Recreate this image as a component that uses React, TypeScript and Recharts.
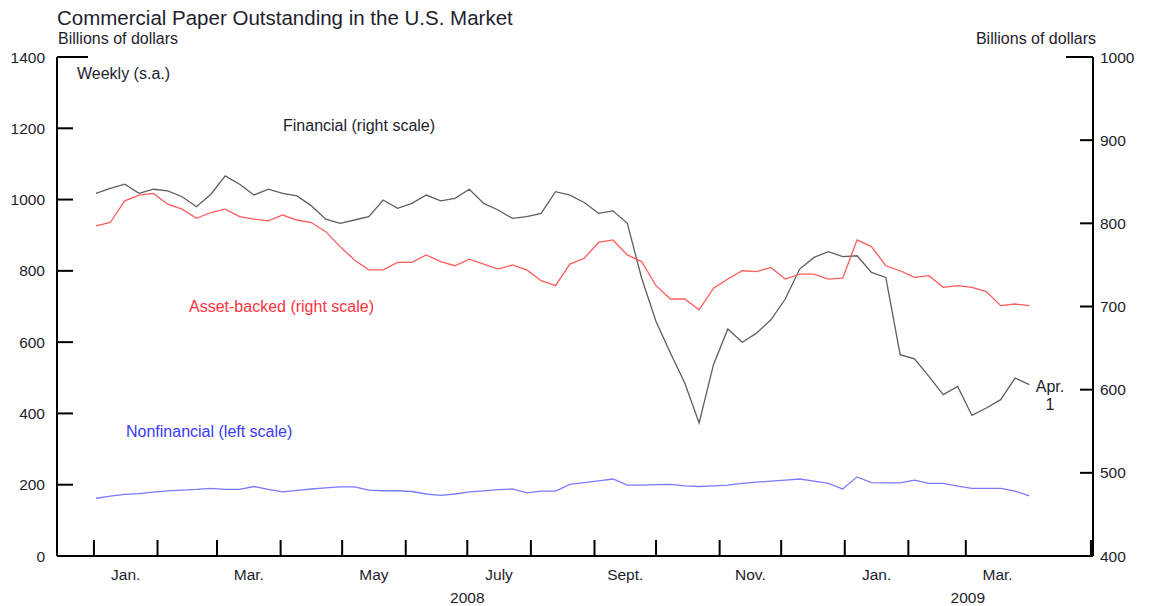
import { LineChart, Line, XAxis, YAxis } from 'recharts';

// weekly readings, Wednesdays Jan 2, 2008 .. Apr 1, 2009 (days since Jan 1, 2008)
const weekDays: number[] = Array.from({ length: 66 }, (_, i) => 1 + 7 * i);

// right scale, billions of dollars
const financial = [
  836, 842, 847, 836, 841, 839, 832, 820, 835, 857, 847, 834, 841, 836, 833, 821,
  805, 800, 804, 808, 828, 818, 824, 834, 827, 830, 841, 824, 816, 806, 808, 812,
  838, 834, 825, 812, 815, 800, 734, 682, 644, 608, 560, 630, 673, 657, 668, 684,
  709, 745, 759, 766, 760, 761, 741, 735, 642, 637, 616, 594, 604, 569, 578, 588,
  614, 606,
];

const assetBacked = [
  797, 801, 827, 834, 836, 823, 817, 806, 813, 817, 808, 805, 803, 810, 804, 801,
  790, 772, 756, 744, 744, 753, 753, 762, 754, 749, 757, 751, 745, 750, 744, 731,
  725, 751, 758, 777, 780, 762, 754, 725, 709, 709, 696, 722, 733, 743, 742, 747,
  733, 739, 739, 733, 734, 780, 772, 749, 743, 735, 737, 723, 725, 723, 718, 701,
  703, 701,
];

// left scale
const nonfinancial = [
  162, 168, 173, 175, 179, 183, 185, 187, 190, 187, 187, 195, 187, 180, 184, 188,
  191, 194, 194, 185, 183, 183, 181, 174, 170, 174, 180, 183, 186, 188, 177, 182,
  182, 201, 206, 211, 216, 199, 199, 200, 201, 197, 195, 197, 199, 204, 207, 210,
  213, 216, 210, 204, 188, 222, 206, 205, 205, 213, 204, 204, 196, 190, 190, 190,
  182, 169,
];

const leftTicks = [0, 200, 400, 600, 800, 1000, 1200, 1400];
const rightTicks = [400, 500, 600, 700, 800, 900, 1000];

// month boundaries (no Apr. 2009 mark in the original)
const monthStarts = [0, 31, 60, 91, 121, 152, 182, 213, 244, 274, 305, 335, 366, 397, 425, 486];
const monthLabelDays = [15.5, 75.5, 136.5, 197.5, 259, 320, 381.5, 440.5];
const monthLabels = ['Jan.', 'Mar.', 'May', 'July', 'Sept.', 'Nov.', 'Jan.', 'Mar.'];
const yearDays = [182, 426];
const yearLabels = ['2008', '2009'];

const data = weekDays.map((day, i) => ({
  day,
  financial: financial[i],
  assetBacked: assetBacked[i],
  nonfinancial: nonfinancial[i],
}));

const xTicks = Array.from(new Set([...monthStarts, ...monthLabelDays, ...yearDays])).sort((a, b) => a - b);

const FONT = '"Liberation Sans", Arial, sans-serif';
const INK = '#1e1e2e';

function XTick(props: any) {
  const { x, y, payload } = props;
  const v = payload.value;
  const mi = monthLabelDays.indexOf(v);
  const yi = yearDays.indexOf(v);
  return (
    <g>
      {monthStarts.includes(v) && <line x1={x} x2={x} y1={y} y2={y - 16} stroke="#000" strokeWidth={2} />}
      {mi >= 0 && (
        <text x={x} y={y + 18} textAnchor="middle" dominantBaseline="central" fontSize={15.5} fill={INK} fontFamily={FONT}>
          {monthLabels[mi]}
        </text>
      )}
      {yi >= 0 && (
        <text x={x} y={y + 41} textAnchor="middle" dominantBaseline="central" fontSize={15.5} fill={INK} fontFamily={FONT}>
          {yearLabels[yi]}
        </text>
      )}
    </g>
  );
}

function LeftTick(props: any) {
  const { x, y, payload } = props;
  const len = payload.value === 1400 ? 31 : 16;
  return (
    <g>
      <line x1={x} x2={x + len} y1={y} y2={y} stroke="#000" strokeWidth={2} />
      <text x={x - 12} y={y} textAnchor="end" dominantBaseline="central" fontSize={15.5} fill={INK} fontFamily={FONT}>
        {payload.value}
      </text>
    </g>
  );
}

function RightTick(props: any) {
  const { x, y, payload } = props;
  const len = payload.value === 1000 ? 27 : 13;
  return (
    <g>
      <line x1={x} x2={x - len} y1={y} y2={y} stroke="#000" strokeWidth={2} />
      <text x={x + 7} y={y} textAnchor="start" dominantBaseline="central" fontSize={15.5} fill={INK} fontFamily={FONT}>
        {payload.value}
      </text>
    </g>
  );
}

export default function App() {
  const note = { fontFamily: FONT, fontSize: 16 } as const;
  return (
    <div style={{ position: 'absolute', left: 0, top: 0, width: 1151, height: 606, background: '#fff' }}>
      <LineChart width={1151} height={606} data={data} margin={{ top: 57, right: 0, left: 0, bottom: 0 }}>
        <XAxis
          dataKey="day"
          type="number"
          domain={[-18, 487]}
          ticks={xTicks}
          interval={0}
          height={50}
          tickSize={0}
          tickMargin={0}
          tickLine={false}
          axisLine={{ stroke: '#000', strokeWidth: 2 }}
          tick={<XTick />}
        />
        <YAxis
          yAxisId="left"
          orientation="left"
          domain={[0, 1400]}
          ticks={leftTicks}
          interval={0}
          width={57}
          tickSize={0}
          tickMargin={0}
          tickLine={false}
          axisLine={{ stroke: '#000', strokeWidth: 2 }}
          tick={<LeftTick />}
        />
        <YAxis
          yAxisId="right"
          orientation="right"
          domain={[400, 1000]}
          ticks={rightTicks}
          interval={0}
          width={58}
          tickSize={0}
          tickMargin={0}
          tickLine={false}
          axisLine={{ stroke: '#000', strokeWidth: 2 }}
          tick={<RightTick />}
        />
        <Line yAxisId="right" dataKey="financial" type="linear" stroke="#5e5e5e" strokeWidth={1.3} dot={false} isAnimationActive={false} />
        <Line yAxisId="right" dataKey="assetBacked" type="linear" stroke="#ff5c5c" strokeWidth={1.3} dot={false} isAnimationActive={false} />
        <Line yAxisId="left" dataKey="nonfinancial" type="linear" stroke="#7a7aff" strokeWidth={1.3} dot={false} isAnimationActive={false} />
      </LineChart>
      <svg width={1151} height={606} style={{ position: 'absolute', left: 0, top: 0, pointerEvents: 'none' }}>
        <text x={57} y={17} dominantBaseline="central" fontFamily={FONT} fontSize={20.5} fill={INK}>
          Commercial Paper Outstanding in the U.S. Market
        </text>
        <text x={58} y={38} dominantBaseline="central" {...note} fill={INK}>Billions of dollars</text>
        <text x={1096} y={38} textAnchor="end" dominantBaseline="central" {...note} fill={INK}>Billions of dollars</text>
        <text x={77} y={73} dominantBaseline="central" {...note} fill={INK}>Weekly (s.a.)</text>
        <text x={283} y={125} dominantBaseline="central" {...note} fill={INK}>Financial (right scale)</text>
        <text x={189} y={306} dominantBaseline="central" {...note} fill="#ff3340">Asset-backed (right scale)</text>
        <text x={126} y={431} dominantBaseline="central" {...note} fill="#3a3af5">Nonfinancial (left scale)</text>
        <text x={1050} y={386} textAnchor="middle" dominantBaseline="central" {...note} fill={INK}>Apr.</text>
        <text x={1050} y={404} textAnchor="middle" dominantBaseline="central" {...note} fill={INK}>1</text>
      </svg>
    </div>
  );
}
